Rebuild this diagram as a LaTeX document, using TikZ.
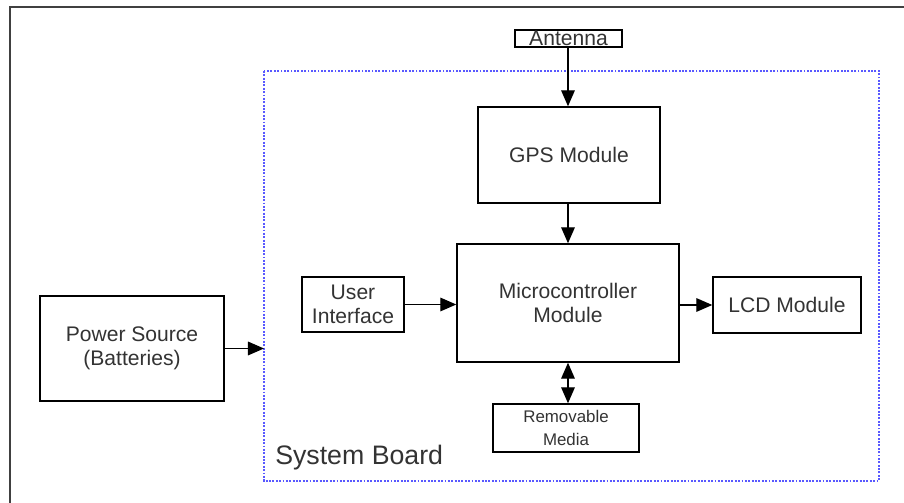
\documentclass[tikz,border=0pt]{standalone}
\usepackage{fontspec}
\setmainfont{Liberation Sans}
\usepackage{tikz}
\usetikzlibrary{arrows.meta}

\begin{document}
\begin{tikzpicture}[x=0.025cm, y=-0.025cm,
  block/.style={draw, line width=1pt, text=black!80, align=center, inner sep=0pt,
    font=\fontsize{15}{17.5}\selectfont},
  link/.style={-{Triangle[length=4mm,width=3.4mm]}, line width=1pt}]
\useasboundingbox (0,0) rectangle (904,503);
\draw[line width=1.4pt, black!75] (904,7) -- (10,7) -- (10,503);
% system board
\draw[blue!65, line width=1.4pt, dash pattern=on 1.3pt off 1.1pt] (264,71) rectangle (879,481);
\node[anchor=base west, text=black!80, font=\fontsize{19}{21}\selectfont, inner sep=0pt] (board) at (275,465) {System Board};
\node[block, minimum width=2.675cm, minimum height=0.425cm, text height=10.5pt, text depth=0pt] (antenna) at (568.5,38.5) {Antenna};
\node[block, minimum width=4.55cm, minimum height=2.4cm] (gps) at (569,155) {GPS Module};
\node[block, minimum width=5.55cm, minimum height=2.95cm] (micro) at (568,303) {Microcontroller\\Module};
\node[block, minimum width=2.55cm, minimum height=1.375cm] (ui) at (353,304.5) {User\\Interface};
\node[block, minimum width=3.7cm, minimum height=1.4cm] (lcd) at (787,305) {LCD Module};
\node[block, minimum width=3.65cm, minimum height=1.2cm, font=\fontsize{12}{16}\selectfont] (media) at (566,428) {Removable\\Media};
\node[block, minimum width=4.6cm, minimum height=2.625cm] (power) at (132,348.5) {Power Source\\(Batteries)};
\coordinate (boardin) at (264,348.5);
\draw[link] (antenna.south -| micro.north) -- (gps.north -| micro.north);
\draw[link] (gps.south -| micro.north) -- (micro.north);
\draw[link] (ui.east) -- (ui.east -| micro.west);
\draw[link] (micro.east |- lcd.west) -- (lcd.west);
\draw[link, {Triangle[length=4mm,width=3.4mm]}-{Triangle[length=4mm,width=3.4mm]}] (micro.south) -- (media.north -| micro.south);
\draw[link] (power.east) -- (boardin);
\end{tikzpicture}
\end{document}
